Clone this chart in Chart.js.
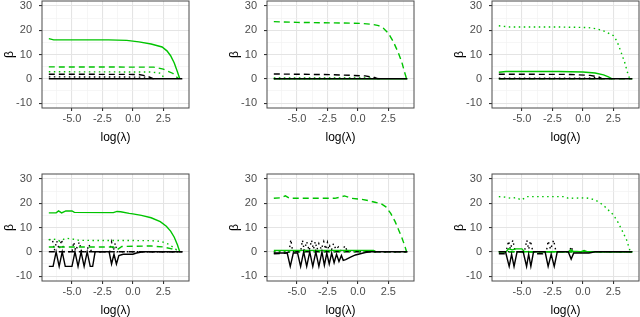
<!DOCTYPE html>
<html>
<head>
<meta charset="utf-8">
<script src="https://cdn.jsdelivr.net/npm/chart.js@4.4.1/dist/chart.umd.min.js"></script>
<style>
html, body { margin: 0; padding: 0; background: #fff; overflow: hidden; }
#wrap { position: relative; width: 640px; height: 317px; }
#wrap canvas { position: absolute; }
</style>
</head>
<body>
<div id="wrap"></div>
<script>
// axes (same for all six panels)
const xLimits = [-7.46, 4.61];
const yLimits = [-12, 32];
const xTickLabels = [-5, -2.5, 0, 2.5];
const yTickLabels = [-10, 0, 10, 20, 30];

// panel 1 (top left) - [log(lambda), beta]
const p1BlackSolid = [[-6.9, 0], [4.06, 0]];
const p1GreenSolid = [[-6.9, 16.5], [-6.5, 16.0], [-2, 16.0], [-0.5, 15.8], [0.5, 15.2], [1.5, 14.3], [2.4, 13.1], [2.8, 11.5], [3.1, 9.5], [3.4, 6.5], [3.65, 3], [3.85, 0]];
const p1GreenDashed = [[-6.9, 4.9], [1.7, 4.8], [2.5, 4.0], [3.3, 2.2], [3.75, 0]];
const p1GreenDotted = [[-6.9, 2.9], [1.5, 2.8], [2.3, 2.3], [2.6, 0]];
const p1BlackDashed = [[-6.9, 1.9], [0.5, 1.8], [1.2, 1.1], [1.7, 0]];
const p1BlackDotted = [[-6.9, 0.8], [1.0, 0.7], [1.6, 0]];

// panel 2 (top middle)
const p2BlackSolid = [[-6.9, 0], [4.06, 0]];
const p2GreenSolid = [[-6.9, 0], [4.06, 0]];
const p2GreenDashed = [[-6.9, 23.5], [-5, 23.2], [-2, 23.0], [0.3, 22.8], [1.2, 22.4], [1.7, 21.9], [2.1, 20.8], [2.5, 18.8], [2.9, 15.4], [3.3, 11], [3.6, 7], [3.85, 2.5], [4.0, 0]];
const p2GreenDotted = [[-6.9, 0.4], [1.0, 0.4], [1.3, 0]];
const p2BlackDashed = [[-6.9, 2.0], [-2, 1.7], [0.6, 1.2], [1.4, 0.5], [1.7, 0]];
const p2BlackDotted = [[-6.9, 0.1], [1.0, 0.2], [1.5, 0.6], [1.8, 0]];

// panel 3 (top right)
const p3BlackSolid = [[-6.9, 0], [4.06, 0]];
const p3GreenSolid = [[-6.9, 2.7], [-6.3, 3.0], [-2, 3.0], [0, 2.8], [1.0, 2.4], [1.7, 1.6], [2.1, 0.8], [2.4, 0]];
const p3GreenDashed = [[-6.9, 0], [4.06, 0]];
const p3GreenDotted = [[-6.9, 21.8], [-6, 21.3], [-2, 21.3], [0.4, 21.1], [1.2, 20.5], [1.8, 19.5], [2.5, 17.8], [2.8, 15.5], [3.1, 11.5], [3.45, 6.5], [3.7, 2], [3.85, 0]];
const p3BlackDashed = [[-6.9, 1.9], [-1, 1.8], [0.6, 1.4], [1.3, 0.8], [1.6, 0]];
const p3BlackDotted = [[-6.9, 0.3], [0.5, 0.3], [1.3, 0.6], [1.6, 0]];

// panel 4 (bottom left)
const p4BlackSolid = [[-6.9, -6], [-6.55, -6], [-6.3, 0], [-6.05, -6], [-5.8, 0], [-5.55, -6], [-5.0, -6], [-4.75, 0], [-4.5, -6], [-4.25, 0], [-4.0, -6], [-3.75, 0], [-3.5, -6], [-3.3, -6], [-3.1, 0], [-1.95, 0], [-1.75, -5], [-1.55, -1], [-1.35, -5], [-1.15, -1.5], [-0.8, -1], [0, -1], [0.3, -0.5], [0.8, 0], [4.06, 0]];
const p4GreenSolid = [[-6.9, 16.0], [-6.3, 16.0], [-6.1, 16.8], [-5.85, 16.0], [-5.5, 16.8], [-5.0, 16.8], [-4.8, 16.2], [-1.6, 16.1], [-1.3, 16.6], [-1.0, 16.5], [-0.3, 15.8], [0, 15.6], [0.7, 15.0], [1.5, 14.0], [2.25, 12.4], [2.75, 10.5], [3.1, 8.5], [3.4, 6], [3.65, 3], [3.85, 0]];
const p4GreenDashed = [[-6.9, 2.0], [-1.6, 2.0], [-1.3, 0.8], [-0.9, 2.2], [1.5, 2.4], [2.5, 2.0], [3.2, 1.2], [3.65, 0]];
const p4GreenDotted = [[-6.9, 5.0], [-6.3, 5.2], [-6.0, 4.4], [-5.5, 5.6], [-5.0, 5.3], [-4.4, 4.7], [1.5, 4.6], [2.3, 4.3], [3.0, 3.0], [3.5, 1.2], [3.75, 0]];
const p4BlackDashed = [[-6.9, 0], [4.06, 0]];
const p4BlackDotted = [[-6.9, 5], [-6.6, 5], [-6.45, 0.5], [-6.25, 4.5], [-6.05, 1], [-5.85, 5], [-5.65, 0], [-5.0, 0], [-4.85, 4], [-4.7, 0.5], [-4.4, 4], [-4.2, 0], [-3.8, 0], [-3.6, 3], [-3.4, 0], [-1.9, 0], [-1.75, 4], [-1.6, 0.5], [-1.45, 3.5], [-1.3, 0], [4.06, 0]];

// panel 5 (bottom middle)
const p5BlackSolid = [[-6.9, -0.5], [-5.8, -0.5], [-5.55, -6], [-5.3, -0.5], [-4.95, -0.5], [-4.7, -6], [-4.45, 0], [-4.2, -6], [-3.95, 0], [-3.7, -6], [-3.45, 0], [-3.2, -6], [-2.95, 0], [-2.75, -5.5], [-2.55, -0.5], [-2.35, -5], [-2.15, -0.5], [-1.95, -4.5], [-1.75, -1], [-1.55, -4], [-1.35, -1.5], [-1.2, -3.5], [-1.0, -3.2], [-0.6, -2.2], [-0.2, -1.3], [0.2, -0.8], [0.6, -0.3], [1.0, 0], [4.06, 0]];
const p5GreenSolid = [[-6.9, 0.6], [1.3, 0.6], [1.5, 0]];
const p5GreenDashed = [[-6.9, 22], [-6.3, 22.2], [-5.95, 23], [-5.6, 22], [-1.9, 22], [-1.5, 22.4], [-1.1, 23], [-0.5, 22], [0.3, 21.6], [0.9, 21], [1.4, 20.4], [1.9, 19.8], [2.3, 18.5], [2.7, 15.8], [3.06, 12.4], [3.35, 9], [3.6, 6], [3.85, 2.5], [4.0, 0]];
const p5GreenDotted = [[-6.9, 0], [4.06, 0]];
const p5BlackDashed = [[-6.9, -0.8], [-6.0, -0.6], [-5.6, 0], [4.06, 0]];
const p5BlackDotted = [[-6.9, 0], [-5.65, 0], [-5.5, 5], [-5.35, 0], [-4.7, 0], [-4.55, 4.8], [-4.4, 0.5], [-4.2, 4.2], [-4.0, 0.5], [-3.8, 4.8], [-3.65, 1], [-3.5, 4.2], [-3.35, 1], [-3.2, 3.4], [-3.0, 1], [-2.8, 4.2], [-2.65, 1], [-2.5, 3.8], [-2.4, 1], [-2.3, 2.5], [-2.15, 1], [-2.0, 3.4], [-1.8, 1], [-1.6, 2], [-1.4, 0.5], [-1.2, 1.4], [-1.05, 2.5], [-0.9, 0.5], [-0.5, 0.3], [0, 0], [4.06, 0]];

// panel 6 (bottom right)
const p6BlackSolid = [[-6.9, 0], [-6.35, 0], [-6.05, -6], [-5.85, -1], [-5.65, -6], [-5.4, 0], [-4.9, 0], [-4.62, -6], [-4.45, -1], [-4.27, -6], [-4.05, 0], [-3.1, 0], [-2.85, -6], [-2.6, -1], [-2.35, -6], [-2.1, 0], [-1.2, 0], [-0.96, -3], [-0.75, -0.5], [0.5, -0.5], [1.0, 0], [4.06, 0]];
const p6GreenSolid = [[-6.9, 0], [-6.3, 0], [-6.1, 1.2], [-5.8, 0.8], [-5.5, 1.2], [-5.0, 1.2], [-4.8, 0], [-1.2, 0], [-1.0, 0.8], [-0.8, 0.3], [-0.2, 0], [0.1, 0.5], [0.4, 0], [4.06, 0]];
const p6GreenDashed = [[-6.9, 0], [4.06, 0]];
const p6GreenDotted = [[-6.9, 22.7], [-6.4, 22.5], [-5.9, 22], [-5.5, 22.3], [-5.05, 21.3], [-4.6, 22.7], [-1.5, 22.7], [-1.2, 22], [0.2, 22.2], [0.6, 21.9], [1.0, 21.3], [1.4, 20.2], [1.8, 18.6], [2.5, 15.2], [2.9, 12], [3.2, 9], [3.6, 4.8], [3.9, 0]];
const p6BlackDashed = [[-6.9, -0.8], [-6.3, -0.8], [-6.1, 0], [-4.0, 0], [-3.9, -0.8], [-3.3, -0.8], [-3.2, 0], [4.06, 0]];
const p6BlackDotted = [[-6.9, 0], [-6.3, 0], [-6.1, 4.5], [-5.95, 1], [-5.75, 4.8], [-5.55, 0], [-4.8, 0], [-4.6, 4.8], [-4.45, 1], [-4.3, 4.5], [-4.1, 0], [-3.0, 0], [-2.85, 4.5], [-2.65, 1], [-2.4, 4.8], [-2.2, 0], [-1.1, 0], [-0.96, 2.2], [-0.8, 0], [4.06, 0]];

const panels = [
    [p1BlackSolid, p1GreenSolid, p1GreenDashed, p1GreenDotted, p1BlackDashed, p1BlackDotted],
    [p2BlackSolid, p2GreenSolid, p2GreenDashed, p2GreenDotted, p2BlackDashed, p2BlackDotted],
    [p3BlackSolid, p3GreenSolid, p3GreenDashed, p3GreenDotted, p3BlackDashed, p3BlackDotted],
    [p4BlackSolid, p4GreenSolid, p4GreenDashed, p4GreenDotted, p4BlackDashed, p4BlackDotted],
    [p5BlackSolid, p5GreenSolid, p5GreenDashed, p5GreenDotted, p5BlackDashed, p5BlackDotted],
    [p6BlackSolid, p6GreenSolid, p6GreenDashed, p6GreenDotted, p6BlackDashed, p6BlackDotted]
];

// style per series, same order as above (first one is drawn on top)
const GREEN = '#00c400';
const seriesStyles = [
    { color: '#000000', dash: [] },
    { color: GREEN, dash: [] },
    { color: GREEN, dash: [6, 4] },
    { color: GREEN, dash: [1.5, 3.5] },
    { color: '#000000', dash: [6, 4] },
    { color: '#000000', dash: [1.5, 3.5] }
];

// layout
const colLeft = [0, 225, 450];
const rowTop = [-7, 166];
const Y_AXIS_W = 42;
const X_AXIS_H = 37;
const PLOT_W = 147;
const PLOT_H = 107;
const PAD_TOP = 8;
const PAD_RIGHT = 2;

Chart.defaults.font.family = "'Liberation Sans', Arial, sans-serif";

const panelBorder = {
    id: 'panelBorder',
    afterDraw(chart) {
        const a = chart.chartArea;
        const ctx = chart.ctx;
        ctx.save();
        ctx.strokeStyle = '#4a4a4a';
        ctx.lineWidth = 1;
        ctx.strokeRect(a.left, a.top, a.right - a.left, a.bottom - a.top);
        ctx.restore();
    }
};

function isMajor(list, v) {
    return list.some(t => Math.abs(t - v) < 1e-6);
}

function gridOpts(list) {
    return {
        color: c => isMajor(list, c.tick.value) ? '#e4e4e4' : '#f0f0f0',
        lineWidth: c => isMajor(list, c.tick.value) ? 1.1 : 0.6,
        tickColor: c => isMajor(list, c.tick.value) ? '#333333' : 'rgba(0,0,0,0)',
        tickLength: 3,
        drawTicks: true
    };
}

const wrap = document.getElementById('wrap');

panels.forEach((series, idx) => {
    const canvas = document.createElement('canvas');
    const w = Y_AXIS_W + PLOT_W + PAD_RIGHT;
    const h = PAD_TOP + PLOT_H + X_AXIS_H;
    canvas.width = w;
    canvas.height = h;
    canvas.style.width = w + 'px';
    canvas.style.height = h + 'px';
    canvas.style.left = colLeft[idx % 3] + 'px';
    canvas.style.top = rowTop[Math.floor(idx / 3)] + 'px';
    wrap.appendChild(canvas);

    const datasets = series.map((pts, i) => ({
        data: pts.map(p => ({ x: p[0], y: p[1] })),
        borderColor: seriesStyles[i].color,
        borderDash: seriesStyles[i].dash,
        borderWidth: 1.4,
        pointRadius: 0,
        fill: false,
        tension: 0
    }));

    new Chart(canvas, {
        type: 'line',
        data: { datasets: datasets },
        plugins: [panelBorder],
        options: {
            responsive: false,
            animation: false,
            devicePixelRatio: 1,
            layout: { padding: { top: PAD_TOP, right: PAD_RIGHT, left: 0, bottom: 0 } },
            plugins: { legend: { display: false }, tooltip: { enabled: false } },
            scales: {
                x: {
                    type: 'linear',
                    min: xLimits[0],
                    max: xLimits[1],
                    border: { display: false },
                    grid: gridOpts(xTickLabels),
                    ticks: {
                        stepSize: 1.25,
                        includeBounds: false,
                        autoSkip: false,
                        maxRotation: 0,
                        padding: 1.5,
                        color: '#4d4d4d',
                        font: { size: 11 },
                        callback: v => isMajor(xTickLabels, v) ? v.toFixed(1) : ''
                    },
                    title: {
                        display: true,
                        text: 'log(λ)',
                        color: '#000000',
                        font: { size: 12 },
                        padding: { top: 0, bottom: 0 }
                    },
                    afterFit: s => { s.height = X_AXIS_H; s.paddingLeft = 0; s.paddingRight = 0; }
                },
                y: {
                    type: 'linear',
                    min: yLimits[0],
                    max: yLimits[1],
                    border: { display: false },
                    grid: gridOpts(yTickLabels),
                    ticks: {
                        stepSize: 5,
                        includeBounds: false,
                        autoSkip: false,
                        maxTicksLimit: 20,
                        padding: 7,
                        color: '#4d4d4d',
                        font: { size: 11 },
                        callback: v => isMajor(yTickLabels, v) ? String(v) : ''
                    },
                    title: {
                        display: true,
                        text: 'β',
                        color: '#000000',
                        font: { size: 12 },
                        padding: { top: 2, bottom: 0 }
                    },
                    afterFit: s => { s.width = Y_AXIS_W; s.paddingTop = 0; s.paddingBottom = 0; }
                }
            }
        }
    });
});
</script>
</body>
</html>
